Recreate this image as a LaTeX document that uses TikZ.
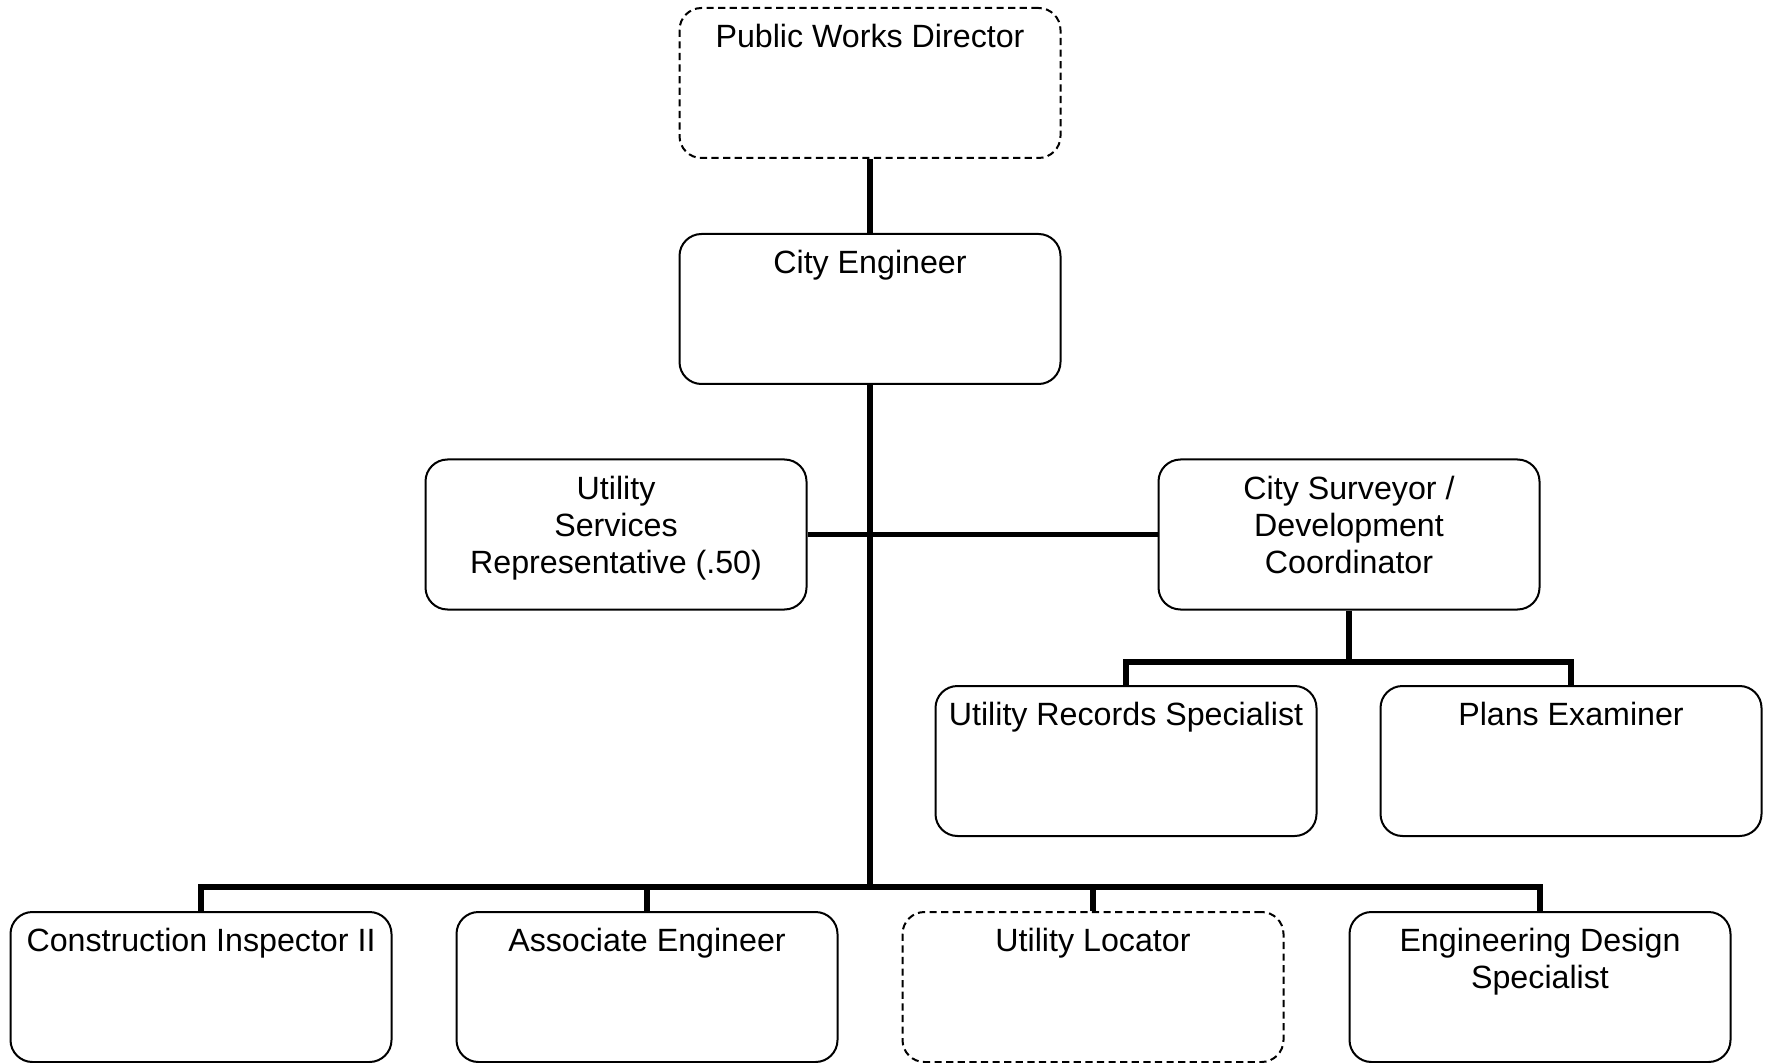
\documentclass[tikz,border=0pt]{standalone}
\usepackage{fontspec}
\setmainfont{Liberation Sans}
\begin{document}
\begin{tikzpicture}[x=0.5pt,y=-0.5pt,
  box/.style={draw=black, line width=1pt, rounded corners=11pt,
    minimum width=190.5pt, minimum height=75pt, inner sep=0pt, fill=white},
  vacant/.style={box, dash pattern=on 3.6pt off 2.2pt},
  lbl/.style={anchor=north, yshift=-8.4pt, inner sep=0pt, align=center,
    font=\fontsize{16.1}{18.5}\selectfont},
  conn/.style={draw=black, line width=2.6pt, line join=miter}]

% page frame
\useasboundingbox (0,0) rectangle (1765,1063);

% positions
\node[vacant] (pwd)  at (870,83)   {};
\node[box]    (ce)   at (870,309)  {};
\node[box]    (usr)  at (616,534.5) {};
\node[box]    (csdc) at (1349,534.5) {};
\node[box]    (urs)  at (1126,761) {};
\node[box]    (pe)   at (1571,761) {};
\node[box]    (ci)   at (201,987)  {};
\node[box]    (ae)   at (647,987)  {};
\node[vacant] (ul)   at (1093,987) {};
\node[box]    (eds)  at (1540,987) {};

% bus junctions
\coordinate (bus)  at (870,887);
\coordinate (sbus) at (1349,662);

% connectors
\draw[conn] (pwd.south) -- (ce.north);
\draw[conn] (ce.south) -- (bus);
\draw[conn] (usr.east) -- (csdc.west);
\draw[conn] (ci.north) |- (bus) -| (eds.north);
\draw[conn] (ae.north) -- (ae.north |- bus);
\draw[conn] (ul.north) -- (ul.north |- bus);
\draw[conn] (csdc.south) -- (sbus);
\draw[conn] (urs.north) |- (sbus) -| (pe.north);

% titles
\node[lbl] (pwd-t)  at (pwd.north)  {Public Works Director};
\node[lbl] (ce-t)   at (ce.north)   {City Engineer};
\node[lbl] (usr-t)  at (usr.north)  {Utility\\Services\\Representative (.50)};
\node[lbl] (csdc-t) at (csdc.north) {City Surveyor /\\Development\\Coordinator};
\node[lbl] (urs-t)  at (urs.north)  {Utility Records Specialist};
\node[lbl] (pe-t)   at (pe.north)   {Plans Examiner};
\node[lbl] (ci-t)   at (ci.north)   {Construction Inspector II};
\node[lbl] (ae-t)   at (ae.north)   {Associate Engineer};
\node[lbl] (ul-t)   at (ul.north)   {Utility Locator};
\node[lbl] (eds-t)  at (eds.north)  {Engineering Design\\Specialist};
\end{tikzpicture}
\end{document}
